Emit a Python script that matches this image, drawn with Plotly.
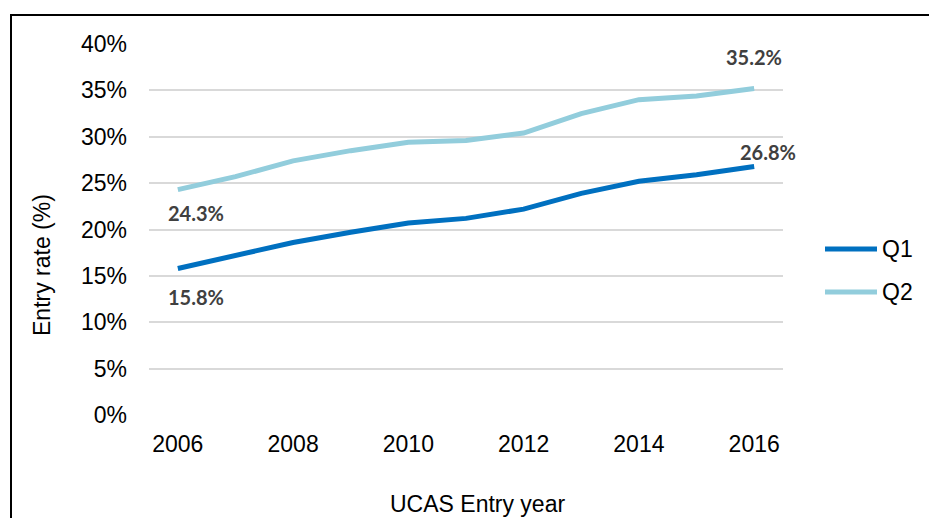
import plotly.graph_objects as go

# Entry rates by UCAS entry year for the two lowest participation quintiles
years = [2006, 2007, 2008, 2009, 2010, 2011, 2012, 2013, 2014, 2015, 2016]
q1_rate = [15.8, 17.2, 18.6, 19.7, 20.7, 21.2, 22.2, 23.9, 25.2, 25.9, 26.8]
q2_rate = [24.3, 25.7, 27.4, 28.5, 29.4, 29.6, 30.4, 32.5, 34.0, 34.4, 35.2]
series_names = ["Q1", "Q2"]
y_ticks = [0, 5, 10, 15, 20, 25, 30, 35, 40]
x_ticks = [2006, 2008, 2010, 2012, 2014, 2016]

colors = {"Q1": "#0070C0", "Q2": "#92CDDC"}
font_main = "Liberation Sans, Arial, sans-serif"
text_size = 23
label_font = dict(family="Lato, Open Sans, sans-serif", size=20,
                  color="#404040", weight="bold")

fig = go.Figure()
for name, vals in zip(series_names, [q1_rate, q2_rate]):
    fig.add_trace(go.Scatter(
        x=years, y=vals, mode="lines", name=name,
        line=dict(color=colors[name], width=5),
        showlegend=False,
    ))

# End-point value labels (first and last year of each series)
def pct(v):
    return f"{v:.1f}%"

annotations = [
    dict(x=years[0], y=q2_rate[0], text=pct(q2_rate[0]), xshift=18, yshift=-23),
    dict(x=years[-1], y=q2_rate[-1], text=pct(q2_rate[-1]), xshift=0, yshift=32),
    dict(x=years[0], y=q1_rate[0], text=pct(q1_rate[0]), xshift=18, yshift=-29),
    dict(x=years[-1], y=q1_rate[-1], text=pct(q1_rate[-1]), xshift=14, yshift=14),
]
for a in annotations:
    a.update(xref="x", yref="y", showarrow=False, font=label_font,
             xanchor="center", yanchor="middle")

# Axis titles
annotations.append(dict(
    xref="paper", yref="paper", x=(42 - 149) / 634, y=(415 - 265) / 371,
    text="Entry rate (%)", textangle=-90, showarrow=False,
    font=dict(family=font_main, size=text_size, color="#000000"),
    xanchor="center", yanchor="middle"))
annotations.append(dict(
    xref="paper", yref="paper", x=(477 - 149) / 634, y=(415 - 504) / 371,
    text="UCAS Entry year", showarrow=False,
    font=dict(family=font_main, size=text_size, color="#000000"),
    xanchor="center", yanchor="middle"))

# Legend entries drawn at the right of the plot
shapes = []
for i, name in enumerate(series_names):
    ly = (415 - (249 + 43 * i)) / 371
    shapes.append(dict(
        type="line", xref="paper", yref="paper",
        x0=(825 - 149) / 634, x1=(877 - 149) / 634, y0=ly, y1=ly,
        line=dict(color=colors[name], width=5)))
    annotations.append(dict(
        xref="paper", yref="paper", x=(880 - 149) / 634, y=ly,
        text=name, showarrow=False, xanchor="left", yanchor="middle",
        font=dict(family=font_main, size=text_size, color="#000000")))

# Outer chart frame
shapes.append(dict(
    type="rect", xref="paper", yref="paper",
    x0=(11 - 149) / 634, x1=(940 - 149) / 634,
    y0=(415 - 530) / 371, y1=(415 - 15) / 371,
    line=dict(color="#000000", width=2), fillcolor="rgba(0,0,0,0)", layer="below"))

fig.update_layout(
    width=929, height=518,
    margin=dict(l=149, r=146, t=44, b=103),
    paper_bgcolor="white", plot_bgcolor="white",
    font=dict(family=font_main, size=text_size, color="#000000"),
    annotations=annotations, shapes=shapes,
    xaxis=dict(
        range=[2005.5, 2016.5], tickmode="array", tickvals=x_ticks,
        ticktext=[str(t) for t in x_ticks], showgrid=False, zeroline=False,
        showline=False, ticks="", ticklabelstandoff=13,
        tickfont=dict(family=font_main, size=text_size, color="#000000")),
    yaxis=dict(
        range=[0, 40], tickmode="array", tickvals=y_ticks,
        ticktext=[f"{t}%" for t in y_ticks], showgrid=True,
        gridcolor="#D9D9D9", gridwidth=1.5, zeroline=False, showline=False,
        ticks="", ticklabelstandoff=21,
        tickfont=dict(family=font_main, size=text_size, color="#000000")),
)

fig.write_html("out.html")
